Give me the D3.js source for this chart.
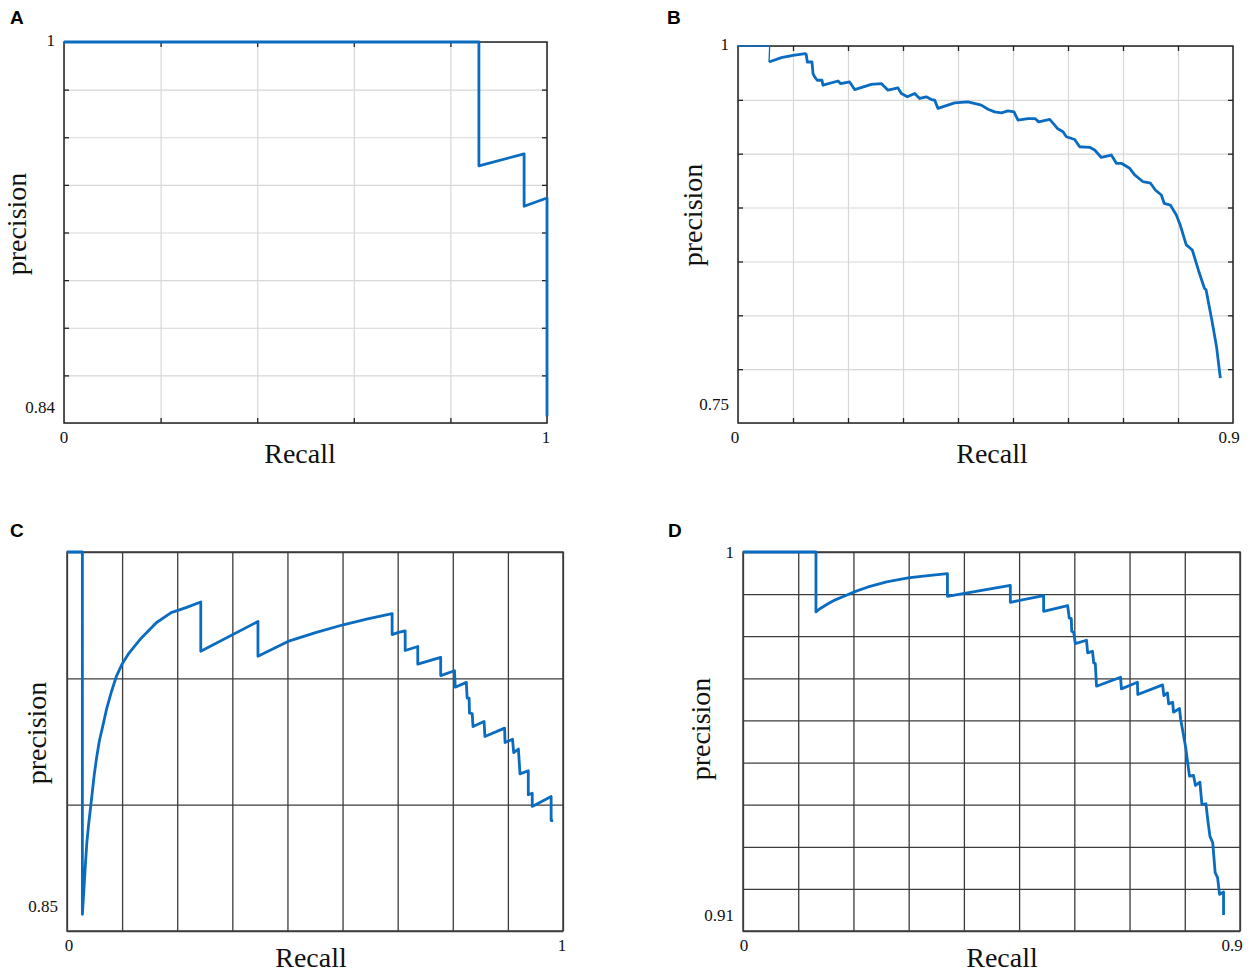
<!DOCTYPE html>
<html>
<head>
<meta charset="utf-8">
<script src="https://cdn.jsdelivr.net/npm/d3@7"></script>
<style>
  body { margin: 0; background: #fff; }
</style>
</head>
<body>
<div id="viz-container"></div>
<script>
// ---- values ----

// A
const recallA    = [0, 0.859, 0.859, 0.9526, 0.9526, 1, 1];
const precisionA = [1, 1, 0.948, 0.953, 0.931, 0.9345, 0.8428];

// B
const recallB = [0, 0.0576, 0.0564, 0.0788, 0.1, 0.1224, 0.124, 0.126, 0.1345, 0.1364, 0.1394, 0.144,
  0.1527, 0.1545, 0.182, 0.1867, 0.203, 0.2121, 0.2424, 0.2606, 0.2727, 0.2909, 0.297, 0.3079,
  0.3212, 0.3303, 0.3424, 0.3515, 0.3576, 0.3636, 0.3939, 0.4182, 0.4424, 0.4545, 0.4667, 0.4788,
  0.4909, 0.5018, 0.5091, 0.5273, 0.54, 0.5467, 0.5667, 0.5758, 0.5806, 0.5909, 0.597, 0.6121,
  0.6212, 0.6394, 0.6485, 0.6606, 0.6788, 0.6879, 0.697, 0.7121, 0.7212, 0.7364, 0.75, 0.7588,
  0.7697, 0.775, 0.786, 0.797, 0.804, 0.815, 0.826, 0.837, 0.848, 0.851, 0.862, 0.87, 0.877];
const precisionB = [1, 1, 0.9894, 0.9923, 0.9938, 0.9949, 0.9945, 0.9894, 0.9894, 0.9817, 0.9795, 0.9773,
  0.9773, 0.974, 0.9768, 0.975, 0.9762, 0.9711, 0.9746, 0.9751, 0.9707, 0.9722, 0.9685, 0.9663,
  0.9685, 0.9652, 0.9663, 0.9645, 0.9641, 0.9586, 0.9623, 0.963, 0.9608, 0.9581, 0.9563, 0.9557,
  0.957, 0.9563, 0.9508, 0.9519, 0.9519, 0.9497, 0.9513, 0.9475, 0.9453, 0.9431, 0.9398, 0.938,
  0.9332, 0.9328, 0.931, 0.9261, 0.9277, 0.9222, 0.9222, 0.9189, 0.9145, 0.91, 0.909, 0.9045,
  0.9012, 0.8956, 0.8945, 0.8879, 0.8813, 0.8681, 0.8647, 0.8515, 0.8394, 0.8383, 0.8173, 0.8008, 0.7798];

// C
const recallC = [0, 0.031, 0.031, 0.034, 0.037, 0.04, 0.0435, 0.047, 0.051, 0.055, 0.06, 0.065,
  0.072, 0.08, 0.09, 0.1, 0.112, 0.125, 0.15, 0.18, 0.21, 0.24, 0.2697,
  0.2697, 0.385, 0.385, 0.4455, 0.5028, 0.5569, 0.6062, 0.6555, 0.6555, 0.6683,
  0.6818, 0.6818, 0.7072, 0.7072, 0.7534, 0.7534, 0.7812, 0.7828, 0.8051, 0.8067, 0.8107, 0.8115,
  0.817, 0.8186, 0.8409, 0.8425, 0.8823, 0.8831, 0.8982, 0.9006, 0.9101, 0.9117, 0.9133, 0.93,
  0.93, 0.938, 0.938, 0.9761, 0.9761, 0.9801];
const precisionC = [1, 1, 0.8566, 0.866, 0.876, 0.885, 0.892, 0.898, 0.905, 0.912, 0.919, 0.925,
  0.931, 0.938, 0.945, 0.951, 0.956, 0.96, 0.966, 0.972, 0.976, 0.978, 0.9802,
  0.9607, 0.9725, 0.9587, 0.9646, 0.9682, 0.9712, 0.9735, 0.9756, 0.9673, 0.9682,
  0.9688, 0.961, 0.9626, 0.9556, 0.9583, 0.9511, 0.953, 0.9465, 0.9484, 0.9422, 0.9422, 0.9362,
  0.936, 0.9309, 0.9329, 0.927, 0.9303, 0.9246, 0.9259, 0.9206, 0.922, 0.9171, 0.9122, 0.9134,
  0.9039, 0.9045, 0.8993, 0.9032, 0.8937, 0.8937];

// D
const recallD = [0, 0.1321, 0.1321, 0.14, 0.1539, 0.168, 0.1829, 0.205, 0.2265, 0.26, 0.299, 0.335, 0.3702,
  0.3702, 0.4841, 0.4841, 0.5444,
  0.5444, 0.5879, 0.5908, 0.5945, 0.5952, 0.5988, 0.6017, 0.622, 0.6242, 0.6329, 0.6351, 0.638,
  0.6402, 0.6837, 0.6852, 0.7142, 0.7149, 0.7599, 0.7621, 0.7686, 0.7708, 0.7781, 0.7795, 0.7904,
  0.7926, 0.8013, 0.8085, 0.8158, 0.8194, 0.8274, 0.831, 0.8383, 0.8419, 0.8455, 0.8506, 0.855,
  0.8594, 0.863, 0.8702, 0.8702];
const precisionD = [1, 1, 0.98576, 0.9866, 0.9877, 0.9887, 0.98948, 0.9907, 0.9917, 0.9929, 0.99383, 0.9944, 0.99486,
  0.98948, 0.99209, 0.98806, 0.98964,
  0.98592, 0.98727, 0.98434, 0.98418, 0.98118, 0.98094, 0.97825, 0.97904, 0.97604, 0.97644, 0.97367, 0.97351,
  0.96813, 0.97027, 0.9675, 0.96908, 0.96615, 0.96844, 0.96592, 0.96655, 0.96394, 0.96434, 0.96196, 0.96283,
  0.96022, 0.95389, 0.94678, 0.94694, 0.94456, 0.94535, 0.94005, 0.94021, 0.9361, 0.93254, 0.93096, 0.92384,
  0.92265, 0.9187, 0.91925, 0.9138];

// grid lines (tick positions) and tick labels
const xGridA = [0, 0.2, 0.4, 0.6, 0.8, 1];
const yGridA = [0.84, 0.86, 0.88, 0.9, 0.92, 0.94, 0.96, 0.98, 1];
const xGridB = [0, 0.1, 0.2, 0.3, 0.4, 0.5, 0.6, 0.7, 0.8, 0.9];
const yGridB = [0.75, 0.7857, 0.8214, 0.8571, 0.8929, 0.9286, 0.9643, 1];
const xGridC = [0, 1/9, 2/9, 3/9, 4/9, 5/9, 6/9, 7/9, 8/9, 1];
const yGridC = [0.85, 0.9, 0.95, 1];
const xGridD = [0, 0.1, 0.2, 0.3, 0.4, 0.5, 0.6, 0.7, 0.8, 0.9];
const yGridD = [0.91, 0.92, 0.93, 0.94, 0.95, 0.96, 0.97, 0.98, 0.99, 1];

const xLabelsA = ["0", "1"],   yLabelsA = ["1", "0.84"];
const xLabelsB = ["0", "0.9"], yLabelsB = ["1", "0.75"];
const xLabelsC = ["0", "1"],   yLabelsC = ["", "0.85"];
const xLabelsD = ["0", "0.9"], yLabelsD = ["1", "0.91"];

const BLUE = "#0a6cc0";
const SERIF = "'Liberation Serif', 'Times New Roman', serif";

const svg = d3.select("#viz-container").append("svg")
  .attr("width", 1248).attr("height", 974)
  .style("background", "#fff");

const panels = [
  { letter: "A", lx: 10, ly: 24, left: 64, right: 547, top: 42, bottom: 423,
    recall: recallA, precision: precisionA, xGrid: xGridA, yGrid: yGridA,
    xLabels: xLabelsA, yLabels: yLabelsA, light: true, thinHead: 0,
    yLabDy: [4, -10], xLabDx: [0, -1], ylabX: 26, ylabY: 224, rlabX: 300, rlabDy: 40 },
  { letter: "B", lx: 667, ly: 24, left: 738, right: 1233, top: 46, bottom: 423,
    recall: recallB, precision: precisionB, xGrid: xGridB, yGrid: yGridB,
    xLabels: xLabelsB, yLabels: yLabelsB, light: true, thinHead: 2,
    yLabDy: [4, -13], xLabDx: [-3, -4], ylabX: 702, ylabY: 215, rlabX: 992, rlabDy: 40 },
  { letter: "C", lx: 10, ly: 537, left: 67, right: 563, top: 552, bottom: 931,
    recall: recallC, precision: precisionC, xGrid: xGridC, yGrid: yGridC,
    xLabels: xLabelsC, yLabels: yLabelsC, light: false, thinHead: 0,
    yLabDy: [4, -19], xLabDx: [2, -1], ylabX: 46, ylabY: 733, rlabX: 311, rlabDy: 36 },
  { letter: "D", lx: 668, ly: 537, left: 743, right: 1240, top: 552, bottom: 931,
    recall: recallD, precision: precisionD, xGrid: xGridD, yGrid: yGridD,
    xLabels: xLabelsD, yLabels: yLabelsD, light: false, thinHead: 0,
    yLabDy: [6, -10], xLabDx: [1, -8], ylabX: 710, ylabY: 729, rlabX: 1002, rlabDy: 36 }
];

panels.forEach(drawPanel);

function drawPanel(p) {
  const xDom = [p.xGrid[0], p.xGrid[p.xGrid.length - 1]];
  const yDom = [p.yGrid[0], p.yGrid[p.yGrid.length - 1]];
  const x = d3.scaleLinear().domain(xDom).range([p.left, p.right]);
  const y = d3.scaleLinear().domain(yDom).range([p.bottom, p.top]);
  const w = p.right - p.left, h = p.bottom - p.top;
  const gridColor = p.light ? "#d7d7d7" : "#3c3c3c";
  const boxColor = p.light ? "#222" : "#3c3c3c";

  const g = svg.append("g");

  // grid lines drawn with axes
  const vg = g.append("g").attr("transform", `translate(0,${p.bottom})`)
    .call(d3.axisBottom(x).tickValues(p.xGrid).tickSize(-h).tickFormat(""));
  const hg = g.append("g").attr("transform", `translate(${p.left},0)`)
    .call(d3.axisLeft(y).tickValues(p.yGrid).tickSize(-w).tickFormat(""));
  [vg, hg].forEach(a => {
    a.select(".domain").remove();
    a.selectAll("line").attr("stroke", gridColor).attr("stroke-width", p.light ? 1.2 : 1.3);
  });

  // inner tick marks for the light-grid panels
  if (p.light) {
    const inner = p.xGrid.slice(1, -1), innerY = p.yGrid.slice(1, -1);
    const tickAxes = [
      [d3.axisBottom(x).tickValues(inner), `translate(0,${p.bottom})`],
      [d3.axisTop(x).tickValues(inner), `translate(0,${p.top})`],
      [d3.axisLeft(y).tickValues(innerY), `translate(${p.left},0)`],
      [d3.axisRight(y).tickValues(innerY), `translate(${p.right},0)`]
    ];
    tickAxes.forEach(([ax, tr]) => {
      const a = g.append("g").attr("transform", tr)
        .call(ax.tickSize(-5).tickFormat(""));
      a.select(".domain").remove();
      a.selectAll("line").attr("stroke", "#222").attr("stroke-width", 1.3);
    });
  }

  // box
  g.append("rect")
    .attr("x", p.left).attr("y", p.top).attr("width", w).attr("height", h)
    .attr("fill", "none").attr("stroke", boxColor).attr("stroke-width", 1.5);

  // curve
  const pts = p.recall.map((r, i) => [r, p.precision[i]]);
  const line = d3.line().x(d => x(d[0])).y(d => y(d[1]));
  if (p.thinHead > 0) {
    g.append("path").attr("d", line(pts.slice(0, p.thinHead + 1)))
      .attr("fill", "none").attr("stroke", BLUE).attr("stroke-width", 1.3);
  }
  g.append("path").attr("d", line(pts.slice(p.thinHead)))
    .attr("fill", "none").attr("stroke", BLUE).attr("stroke-width", 2.8)
    .attr("stroke-linejoin", "round");

  // x tick labels at the ends of the axis
  g.selectAll(".xl").data(xDom).join("text")
    .attr("x", (d, i) => x(d) + p.xLabDx[i]).attr("y", p.bottom + 20)
    .attr("text-anchor", "middle")
    .style("font-family", SERIF).style("font-size", "17px").attr("fill", "#111")
    .text((d, i) => p.xLabels[i]);

  // y tick labels (top, bottom)
  g.selectAll(".yl").data([yDom[1], yDom[0]]).join("text")
    .attr("x", p.left - 9).attr("y", (d, i) => y(d) + p.yLabDy[i])
    .attr("text-anchor", "end")
    .style("font-family", SERIF).style("font-size", "17px").attr("fill", "#111")
    .text((d, i) => p.yLabels[i]);

  // axis titles
  g.append("text")
    .attr("transform", `translate(${p.ylabX},${p.ylabY}) rotate(-90)`)
    .attr("text-anchor", "middle")
    .style("font-family", SERIF).style("font-size", "28px").attr("fill", "#111")
    .text("precision");
  g.append("text")
    .attr("x", p.rlabX).attr("y", p.bottom + p.rlabDy)
    .attr("text-anchor", "middle")
    .style("font-family", SERIF).style("font-size", "28px").attr("fill", "#111")
    .text("Recall");

  // panel letter
  svg.append("text")
    .attr("x", p.lx).attr("y", p.ly)
    .style("font-family", "'Liberation Sans', Arial, sans-serif")
    .style("font-size", "19px").style("font-weight", "bold")
    .text(p.letter);
}
</script>
</body>
</html>
